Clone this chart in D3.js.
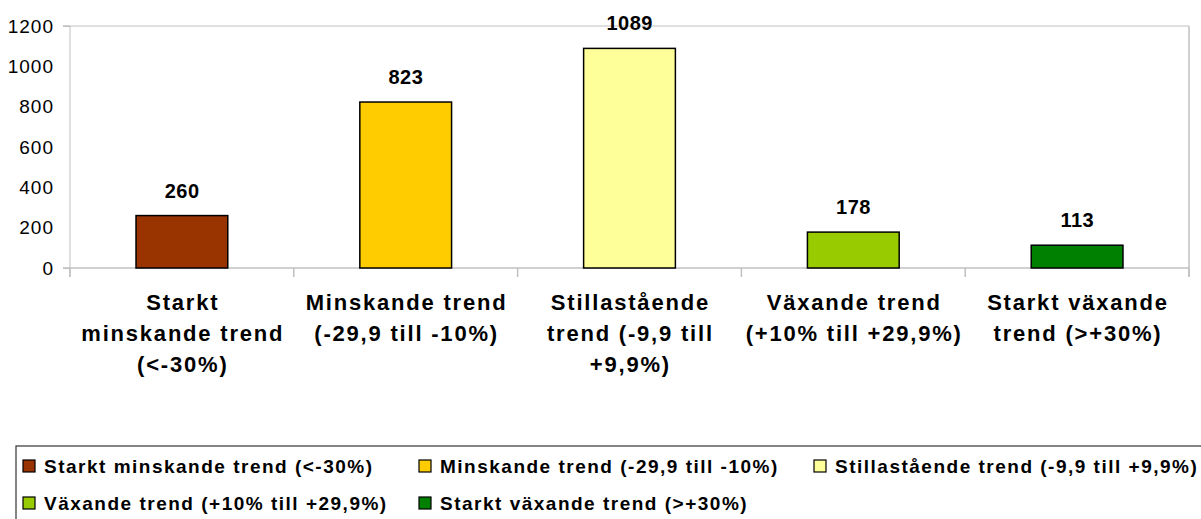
<!DOCTYPE html>
<html>
<head>
<meta charset="utf-8">
<script src="https://cdn.jsdelivr.net/npm/d3@7"></script>
<style>
  html, body { margin: 0; padding: 0; background: #fff; }
  svg { display: block; }
</style>
</head>
<body>
<svg id="chart" width="1201" height="519"></svg>
<script>
const categories = [
  "Starkt minskande trend (<-30%)",
  "Minskande trend (-29,9 till -10%)",
  "Stillastående trend (-9,9 till +9,9%)",
  "Växande trend (+10% till +29,9%)",
  "Starkt växande trend (>+30%)"
];
const axisLabelLines = [
  ["Starkt", "minskande trend", "(<-30%)"],
  ["Minskande trend", "(-29,9 till -10%)"],
  ["Stillastående", "trend (-9,9 till", "+9,9%)"],
  ["Växande trend", "(+10% till +29,9%)"],
  ["Starkt växande", "trend (>+30%)"]
];
const values = [260, 823, 1089, 178, 113];
const colors = ["#993300", "#FFCC00", "#FFFF99", "#99CC00", "#008000"];
const yTicks = [0, 200, 400, 600, 800, 1000, 1200];

(function () {
const svg = d3.select("#chart");
const font = "'Liberation Sans', Arial, sans-serif";
const pLeft = 70, pRight = 1189, pTop = 26, pBottom = 268;

const x = d3.scaleBand().domain(categories).range([pLeft, pRight]).paddingInner(0).paddingOuter(0);
const y = d3.scaleLinear().domain([0, 1200]).range([pBottom, pTop]);
const barW = x.bandwidth() * 0.41;

const grey = "#c0c0c0";
svg.append("line").attr("x1", pLeft - 7).attr("x2", pRight).attr("y1", y(1200)).attr("y2", y(1200)).attr("stroke", grey).attr("stroke-width", 1);
svg.append("line").attr("x1", pRight).attr("x2", pRight).attr("y1", pTop).attr("y2", pBottom + 9).attr("stroke", grey).attr("stroke-width", 1.5);

const yAxis = d3.axisLeft(y).tickValues(yTicks).tickSize(7).tickPadding(9).tickFormat(d3.format("d"));
const gy = svg.append("g").attr("transform", `translate(${pLeft},0)`).call(yAxis);
gy.select(".domain").attr("stroke", grey).attr("d", `M-7,${pTop}H0V${pBottom + 9}`);
gy.selectAll(".tick line").attr("stroke", d => (d === 0 || d === 1200) ? grey : "none");
gy.selectAll("text").attr("font-family", font).attr("font-size", 19).attr("letter-spacing", 1).attr("fill", "#000");

const xAxis = d3.axisBottom(x).tickSize(0).tickFormat("");
const gx = svg.append("g").attr("transform", `translate(0,${pBottom})`).call(xAxis);
gx.select(".domain").attr("stroke", grey).attr("stroke-width", 1.5).attr("d", `M${pLeft - 7},0H${pRight}`);
const boundaries = categories.map(c => x(c)).concat([pRight]);
gx.selectAll(".bound").data(boundaries).enter().append("line")
  .attr("x1", d => d).attr("x2", d => d).attr("y1", 0).attr("y2", 9)
  .attr("stroke", grey).attr("stroke-width", 1.5);

svg.selectAll(".bar").data(values).enter().append("rect")
  .attr("x", (d, i) => x(categories[i]) + x.bandwidth() / 2 - barW / 2)
  .attr("y", d => y(d))
  .attr("width", barW)
  .attr("height", d => y(0) - y(d))
  .attr("fill", (d, i) => colors[i])
  .attr("stroke", "#000").attr("stroke-width", 1.5);

svg.selectAll(".val").data(values).enter().append("text")
  .attr("x", (d, i) => x(categories[i]) + x.bandwidth() / 2 + 0.25)
  .attr("y", d => y(d) - 18)
  .attr("text-anchor", "middle")
  .attr("font-family", font).attr("font-weight", "bold").attr("font-size", 20)
  .attr("letter-spacing", 0.5)
  .text(d => d);

axisLabelLines.forEach((lines, i) => {
  const t = svg.append("text")
    .attr("text-anchor", "middle")
    .attr("font-family", font).attr("font-weight", "bold").attr("font-size", 22)
    .attr("letter-spacing", 1.8);
  lines.forEach((ln, j) => {
    t.append("tspan").attr("x", x(categories[i]) + x.bandwidth() / 2 + 0.9).attr("y", 310 + j * 31).text(ln);
  });
});

const legend = svg.append("g");
legend.append("rect").attr("x", 16).attr("y", 446).attr("width", 1200).attr("height", 100)
  .attr("fill", "none").attr("stroke", "#333").attr("stroke-width", 1.2);
const colX = [23, 419, 814];
categories.forEach((c, i) => {
  const row = Math.floor(i / 3), col = i % 3;
  const gx0 = colX[col], gy0 = 466 + row * 37;
  legend.append("rect").attr("x", gx0).attr("y", gy0 - 6).attr("width", 12).attr("height", 12)
    .attr("fill", colors[i]).attr("stroke", "#000").attr("stroke-width", 1.2);
  legend.append("text").attr("x", gx0 + 21).attr("y", gy0 + 7)
    .attr("font-family", font).attr("font-weight", "bold").attr("font-size", 19)
    .attr("letter-spacing", 1.5)
    .text(c);
});
})();
</script>
</body>
</html>
